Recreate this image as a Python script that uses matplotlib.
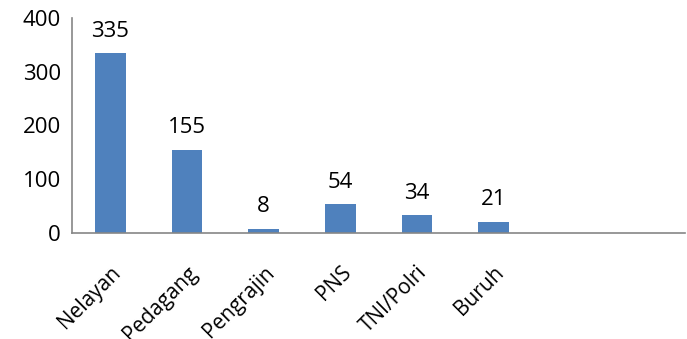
import matplotlib.pyplot as plt

categories = ['Nelayan', 'Pedagang', 'Pengrajin', 'PNS', 'TNI/Polri', 'Buruh', '', '']
values = [335, 155, 8, 54, 34, 21, None, None]

plt.rcParams['font.family'] = ['Open Sans', 'DejaVu Sans']

fig = plt.figure(figsize=(6.87, 3.39), dpi=100)
ax = fig.add_axes([0.105, 0.313, 0.892, 0.634])

xs = list(range(len(categories)))
for x, v in zip(xs, values):
    if v is None:
        continue
    ax.bar(x, v, width=0.4, color='#4f81bd')
    ax.annotate(str(v), (x, v), xytext=(0, 8), textcoords='offset points',
                ha='center', va='bottom', fontsize=16)

ax.set_xlim(-0.5, len(categories) - 0.5)
ax.set_ylim(0, 400)
ax.set_yticks([0, 100, 200, 300, 400])
ax.tick_params(axis='y', length=0, labelsize=16, pad=8)
ax.tick_params(axis='x', length=0, labelsize=15, pad=21)
ax.set_xticks(xs)
ax.set_xticklabels(categories, rotation=45, ha='right', rotation_mode='anchor')

for side in ['top', 'right']:
    ax.spines[side].set_visible(False)
for side in ['left', 'bottom']:
    ax.spines[side].set_color('#868686')
    ax.spines[side].set_linewidth(1.2)

fig.savefig('out.png', dpi=100)
